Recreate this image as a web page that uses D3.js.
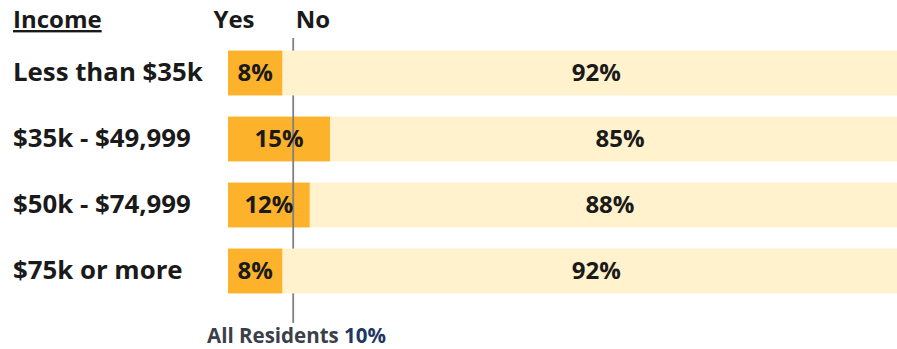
<!DOCTYPE html>
<html>
<head>
<meta charset="utf-8">
<script src="https://cdn.jsdelivr.net/npm/d3@7"></script>
<style>
  html, body { margin: 0; padding: 0; background: #fff; }
  svg { display: block; font-family: "Open Sans", Lato, sans-serif; }
</style>
</head>
<body>
<svg id="chart" width="897" height="349"></svg>
<script>
// Income groups and share answering Yes / No (percent)
const categories = ["Less than $35k", "$35k - $49,999", "$50k - $74,999", "$75k or more"];
const yesValues = [8, 15, 12, 8];
const noValues = [92, 85, 88, 92];
const allResidents = 10;

const svg = d3.select("#chart");

const x = d3.scaleLinear().domain([0, 100]).range([228, 910]);
const y = d3.scaleBand().domain(categories).range([40, 304]).paddingInner(0.32).paddingOuter(0.16);

const rows = categories.map((c, i) => ({ cat: c, yes: yesValues[i], no: noValues[i] }));
const mid = d => y(d.cat) + y.bandwidth() / 2;

// Yes segments
svg.append("g").selectAll("rect").data(rows).join("rect")
  .attr("x", x(0))
  .attr("y", d => y(d.cat))
  .attr("width", d => x(d.yes) - x(0))
  .attr("height", y.bandwidth())
  .attr("fill", "#FDB22B");

// Reference line for all residents
svg.append("line")
  .attr("x1", x(allResidents) - 3).attr("x2", x(allResidents) - 3)
  .attr("y1", 38).attr("y2", 323)
  .attr("stroke", "#7f7f86").attr("stroke-width", 1.8);

// No segments
svg.append("g").selectAll("rect").data(rows).join("rect")
  .attr("x", d => x(d.yes))
  .attr("y", d => y(d.cat))
  .attr("width", d => x(d.yes + d.no) - x(d.yes))
  .attr("height", y.bandwidth())
  .attr("fill", "#FFF2CD");

// Category labels
svg.append("g").selectAll("text").data(rows).join("text")
  .attr("x", 13)
  .attr("y", d => mid(d) + 8)
  .attr("font-size", 25.8).attr("font-weight", 700).attr("fill", "#1a1a1a")
  .text(d => d.cat);

// Yes value labels
svg.append("g").selectAll("text").data(rows).join("text")
  .attr("x", d => (x(0) + x(d.yes)) / 2)
  .attr("y", d => mid(d) + 8)
  .attr("text-anchor", "middle")
  .attr("font-size", 24).attr("font-weight", 700).attr("fill", "#1a1a1a")
  .text(d => d.yes + "%");

// No value labels
svg.append("g").selectAll("text").data(rows).join("text")
  .attr("x", d => (x(d.yes) + x(d.yes + d.no)) / 2)
  .attr("y", d => mid(d) + 8)
  .attr("text-anchor", "middle")
  .attr("font-size", 24).attr("font-weight", 700).attr("fill", "#1a1a1a")
  .text(d => d.no + "%");

// Column headers
svg.append("text").attr("x", 13).attr("y", 28)
  .attr("font-size", 24).attr("font-weight", 700).attr("fill", "#1a1a1a")
  .attr("text-decoration", "underline")
  .text("Income");
svg.append("text").attr("x", 234).attr("y", 28).attr("text-anchor", "middle")
  .attr("font-size", 24).attr("font-weight", 700).attr("fill", "#1a1a1a")
  .text("Yes");
svg.append("text").attr("x", 313).attr("y", 28).attr("text-anchor", "middle")
  .attr("font-size", 24).attr("font-weight", 700).attr("fill", "#1a1a1a")
  .text("No");

// All residents caption
const cap = svg.append("text").attr("x", 207).attr("y", 343)
  .attr("font-size", 20.5).attr("font-weight", 700);
cap.append("tspan").attr("fill", "#3b3f4a").text("All Residents ");
cap.append("tspan").attr("fill", "#1F3864").text(allResidents + "%");
</script>
</body>
</html>
